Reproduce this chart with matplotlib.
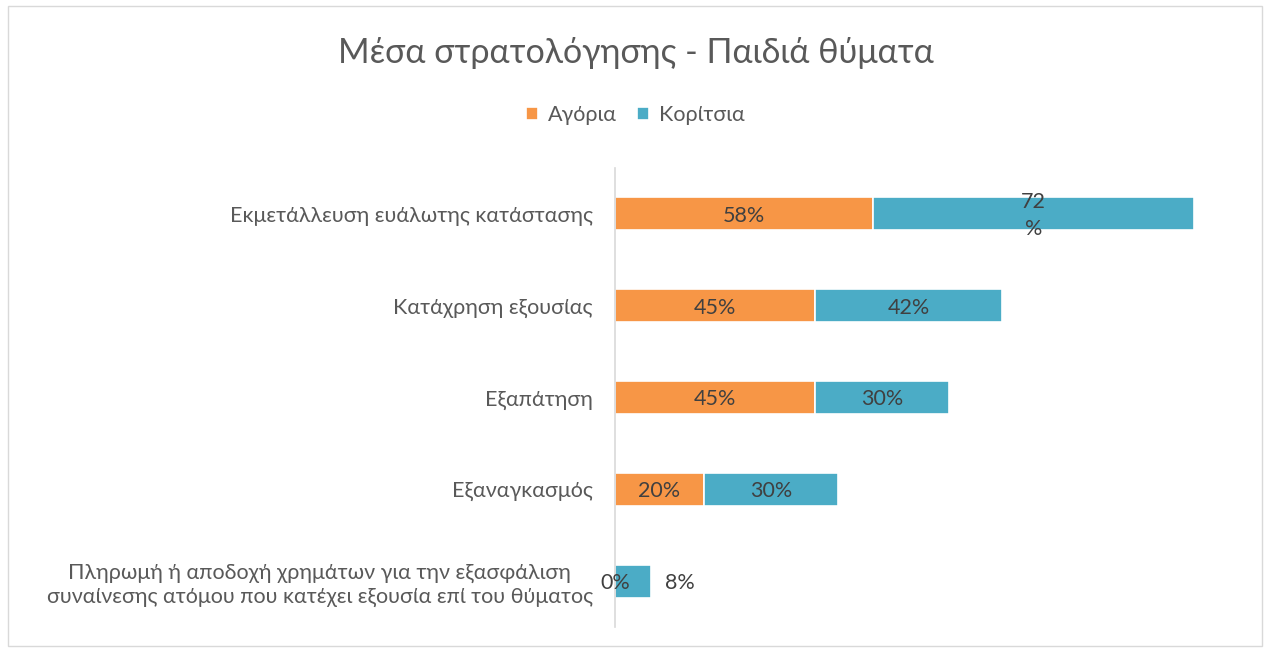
import matplotlib
matplotlib.use("Agg")
import matplotlib.pyplot as plt
from matplotlib.patches import Rectangle

categories = [
    "Εκμετάλλευση ευάλωτης κατάστασης",
    "Κατάχρηση εξουσίας",
    "Εξαπάτηση",
    "Εξαναγκασμός",
    "Πληρωμή ή αποδοχή χρημάτων για την εξασφάλιση\nσυναίνεσης ατόμου που κατέχει εξουσία επί του θύματος",
]
boys = [58, 45, 45, 20, 0]
girls = [72, 42, 30, 30, 8]
series_names = ["Αγόρια", "Κορίτσια"]
title = "Μέσα στρατολόγησης - Παιδιά θύματα"

ORANGE = "#F79646"
BLUE = "#4BACC6"
TXT = "#595959"
LBL = "#404040"

plt.rcParams['font.family'] = ['Lato', 'DejaVu Sans']

fig = plt.figure(figsize=(12.71, 6.48), dpi=100)
W, H = 1271, 648
x0 = 615
ax = fig.add_axes([x0 / W, 1 - 627 / H, (145 * 4.45) / W, (627 - 168) / H])

y = list(range(len(categories)))
h = 0.36
FS = 15.5
b1 = ax.barh(y, boys, height=h, color=ORANGE, edgecolor="white", linewidth=1.2, label=series_names[0])
b2 = ax.barh(y, girls, left=boys, height=h, color=BLUE, edgecolor="white", linewidth=1.2, label=series_names[1])

ax.set_xlim(0, 145)
ax.set_ylim(len(categories) - 0.5, -0.5)
ax.set_yticks(y)
ax.set_yticklabels(categories, fontsize=FS, color=TXT, ha="right")
ax.tick_params(axis="y", length=0, pad=16)
ax.set_xticks([])
for s in ["top", "right", "bottom"]:
    ax.spines[s].set_visible(False)
ax.spines["left"].set_color("#D9D9D9")
ax.spines["left"].set_linewidth(1.2)
for lbl in ax.get_yticklabels():
    lbl.set_multialignment("center")

for i, (bv, gv) in enumerate(zip(boys, girls)):
    if bv > 0:
        ax.text(bv / 2, i + 0.02, f"{bv}%", ha="center", va="center", fontsize=FS, color=LBL)
    else:
        ax.text(0, i + 0.02, f"{bv}%", ha="center", va="center", fontsize=FS, color=LBL)
    if gv >= 60:
        ax.text(bv + gv / 2, i + 0.02, f"{gv}\n%", ha="center", va="center", fontsize=FS,
                color=LBL, linespacing=1.45)
    elif gv >= 15:
        ax.text(bv + gv / 2, i + 0.02, f"{gv}%", ha="center", va="center", fontsize=FS, color=LBL)
    else:
        ax.text(bv + gv + 6.5, i + 0.02, f"{gv}%", ha="center", va="center", fontsize=FS, color=LBL)

fig.text(0.5, 1 - 53 / H, title, ha="center", va="center", fontsize=24.5, color=TXT)

leg = fig.legend(handles=[b1, b2], labels=series_names, loc="center",
                 bbox_to_anchor=(0.5, 1 - 115 / H), ncol=2, frameon=False,
                 fontsize=FS, handlelength=0.55, handleheight=0.55, handletextpad=0.5,
                 columnspacing=0.9, labelcolor=TXT)

fig.patches.append(Rectangle((8 / W, 2 / H), (1262 - 8) / W, (642 - 2) / H,
                             transform=fig.transFigure, fill=False,
                             edgecolor="#D9D9D9", linewidth=1))

fig.savefig("out.png", dpi=100, facecolor="white")
